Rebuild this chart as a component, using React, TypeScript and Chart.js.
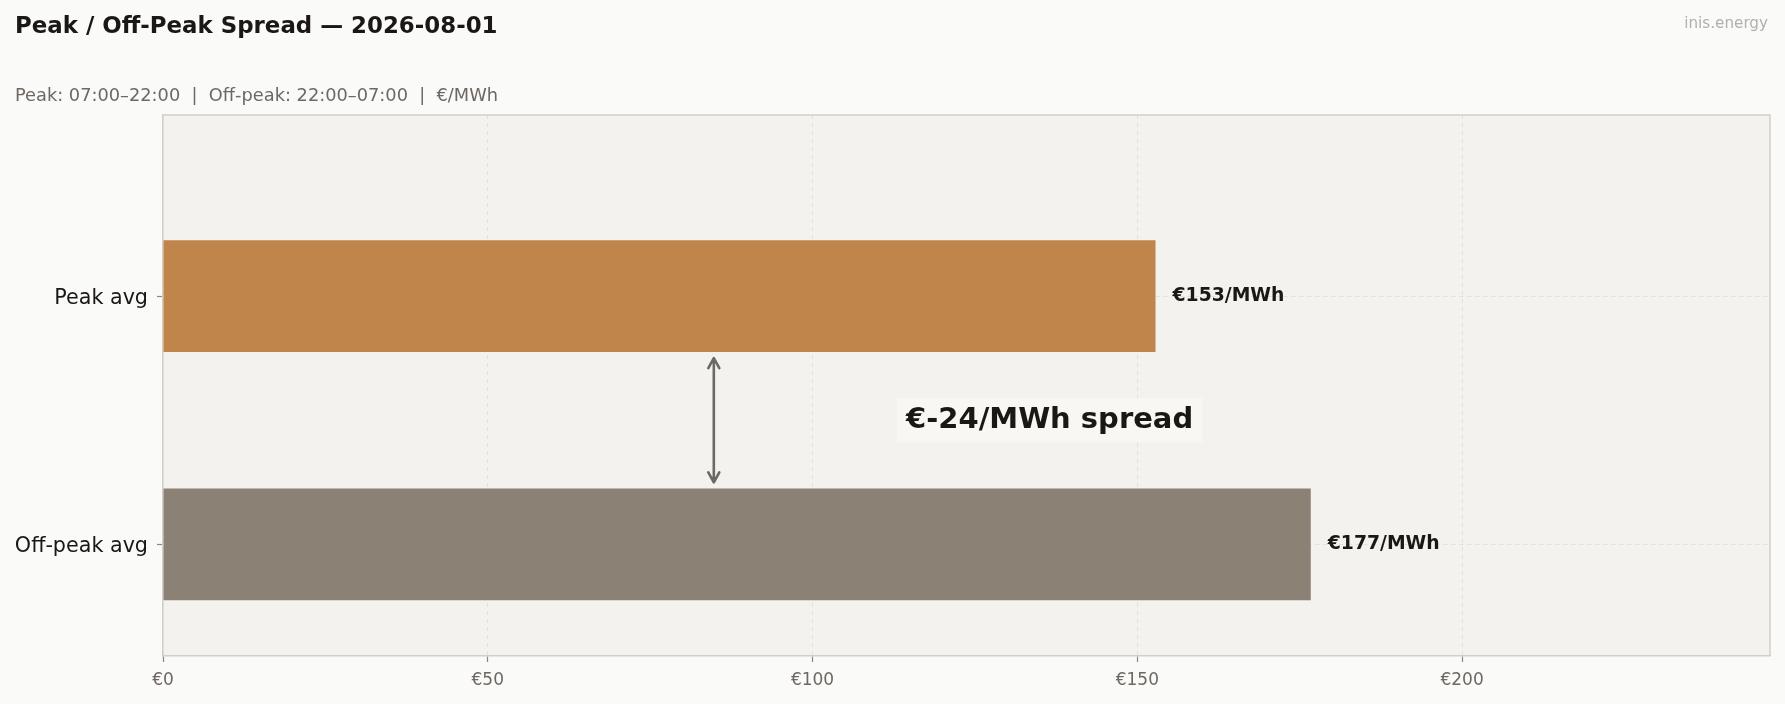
import { useEffect, useRef } from 'react';
import { Chart, registerables, Plugin } from 'chart.js';

Chart.register(...registerables);

// Chart data
const categories = ['Off-peak avg', 'Peak avg'];
const categoryPositions = [0, 1];
const averages = [176.7, 152.8]; // €/MWh
const barColors = ['#8c8175', '#c0854a'];
const xTicks = [0, 50, 100, 150, 200];
const xMax = 247.4;
const yMin = -0.45;
const yMax = 1.73;
const arrowX = 84.8;
const arrowSpan = [0.25, 0.75];
const spreadLabelX = 136.5;
const spreadLabelY = 0.5;

const TITLE = 'Peak / Off-Peak Spread — 2026-08-01';
const SUBTITLE = 'Peak: 07:00–22:00  |  Off-peak: 22:00–07:00  |  €/MWh';
const WATERMARK = 'inis.energy';

const FONT = '"DejaVu Sans", "Noto Sans", sans-serif';
const PAGE_BG = '#fafaf8';
const PLOT_BG = '#f3f2ee';
const FRAME = '#d3cfc8';
const GRID = '#e3e0da';
const TEXT = '#1a1714';
const MUTED = '#6e6862';

const euro = (v: number) => `€${Math.round(v)}`;

const decorations: Plugin<'bar'> = {
  id: 'decorations',
  beforeDraw(chart) {
    const { ctx, chartArea: a, width, height } = chart;
    ctx.save();
    ctx.fillStyle = PAGE_BG;
    ctx.fillRect(0, 0, width, height);
    ctx.fillStyle = PLOT_BG;
    ctx.fillRect(a.left, a.top, a.right - a.left, a.bottom - a.top);
    ctx.restore();
  },
  afterDatasetsDraw(chart) {
    const { ctx } = chart;
    const xs = chart.scales.x;
    const ys = chart.scales.y;
    const meta = chart.getDatasetMeta(0);
    ctx.save();

    // value labels at bar ends
    ctx.font = `bold 18.8px ${FONT}`;
    ctx.fillStyle = TEXT;
    ctx.textAlign = 'left';
    ctx.textBaseline = 'middle';
    meta.data.forEach((el: any, i) => {
      ctx.fillText(`${euro(averages[i])}/MWh`, el.x + 17, el.y);
    });

    // double-headed arrow between bars
    const ax = xs.getPixelForValue(arrowX);
    const yTop = ys.getPixelForValue(arrowSpan[1]);
    const yBot = ys.getPixelForValue(arrowSpan[0]);
    ctx.strokeStyle = MUTED;
    ctx.lineWidth = 2.6;
    ctx.lineCap = 'round';
    ctx.lineJoin = 'round';
    ctx.beginPath();
    ctx.moveTo(ax, yTop);
    ctx.lineTo(ax, yBot);
    ctx.moveTo(ax - 5.5, yTop + 10);
    ctx.lineTo(ax, yTop);
    ctx.lineTo(ax + 5.5, yTop + 10);
    ctx.moveTo(ax - 5.5, yBot - 10);
    ctx.lineTo(ax, yBot);
    ctx.lineTo(ax + 5.5, yBot - 10);
    ctx.stroke();

    // spread label
    const spread = averages[1] - averages[0];
    const label = `${euro(spread)}/MWh spread`;
    const lx = xs.getPixelForValue(spreadLabelX);
    const ly = ys.getPixelForValue(spreadLabelY);
    ctx.font = `bold 29px ${FONT}`;
    const w = ctx.measureText(label).width;
    ctx.fillStyle = '#f8f7f4';
    ctx.fillRect(lx - w / 2 - 9, ly - 22, w + 18, 44);
    ctx.fillStyle = TEXT;
    ctx.textAlign = 'center';
    ctx.fillText(label, lx, ly);
    ctx.restore();
  },
  afterDraw(chart) {
    const { ctx, chartArea: a } = chart;
    ctx.save();
    // top and right frame
    ctx.strokeStyle = FRAME;
    ctx.lineWidth = 1.5;
    ctx.beginPath();
    ctx.moveTo(a.left, a.top);
    ctx.lineTo(a.right, a.top);
    ctx.lineTo(a.right, a.bottom);
    ctx.stroke();

    ctx.textBaseline = 'alphabetic';
    ctx.textAlign = 'left';
    ctx.fillStyle = TEXT;
    ctx.font = `bold 22.9px ${FONT}`;
    ctx.fillText(TITLE, 15, 33);
    ctx.fillStyle = MUTED;
    ctx.font = `17.8px ${FONT}`;
    ctx.fillText(SUBTITLE, 15, 101);
    ctx.textAlign = 'right';
    ctx.fillStyle = '#b3afa9';
    ctx.font = `15.2px ${FONT}`;
    ctx.fillText(WATERMARK, 1768, 28);
    ctx.restore();
  },
};

export default function App() {
  const canvasRef = useRef<HTMLCanvasElement>(null);

  useEffect(() => {
    if (!canvasRef.current) return;
    const ctx = canvasRef.current.getContext('2d');
    if (!ctx) return;

    const chart = new Chart(ctx, {
      type: 'bar',
      data: {
        datasets: [
          {
            data: averages.map((v, i) => ({ x: v, y: categoryPositions[i] })),
            backgroundColor: barColors,
            borderWidth: 0,
            categoryPercentage: 1,
            barPercentage: 0.45,
          },
        ],
      },
      options: {
        indexAxis: 'y',
        animation: false,
        responsive: true,
        maintainAspectRatio: false,
        layout: { padding: { top: 115, right: 15, left: 0, bottom: 0 } },
        plugins: {
          legend: { display: false },
          tooltip: { enabled: false },
        },
        scales: {
          x: {
            type: 'linear',
            min: 0,
            max: xMax,
            offset: false,
            afterBuildTicks: (scale: any) => {
              scale.ticks = xTicks.map((value) => ({ value }));
            },
            afterFit: (scale: any) => {
              scale.height = 48;
            },
            grid: {
              offset: false,
              color: GRID,
              lineWidth: 1,
              tickLength: 6,
              tickColor: '#8c8680',
              tickWidth: 1.2,
            },
            border: { color: FRAME, width: 1.5, dash: [4, 4] },
            ticks: {
              color: MUTED,
              padding: 8,
              font: { family: FONT, size: 17 },
              callback: (value: any) => euro(Number(value)),
            },
          },
          y: {
            type: 'linear',
            min: yMin,
            max: yMax,
            offset: false,
            afterBuildTicks: (scale: any) => {
              scale.ticks = categoryPositions.map((value) => ({ value }));
            },
            afterFit: (scale: any) => {
              scale.width = 163;
            },
            grid: {
              offset: false,
              color: GRID,
              lineWidth: 1,
              tickLength: 6,
              tickColor: '#8c8680',
              tickWidth: 1.2,
            },
            border: { color: FRAME, width: 1.5, dash: [4, 4] },
            ticks: {
              color: TEXT,
              padding: 9,
              labelOffset: 2.5,
              font: { family: FONT, size: 20.7 },
              callback: (value: any) => categories[categoryPositions.indexOf(Number(value))] ?? '',
            },
          },
        },
      },
      plugins: [decorations],
    } as any);

    return () => {
      chart.destroy();
    };
  }, []);

  return (
    <div style={{ position: 'absolute', left: 0, top: 0, width: 1785, height: 704, background: PAGE_BG }}>
      <canvas ref={canvasRef} />
    </div>
  );
}
